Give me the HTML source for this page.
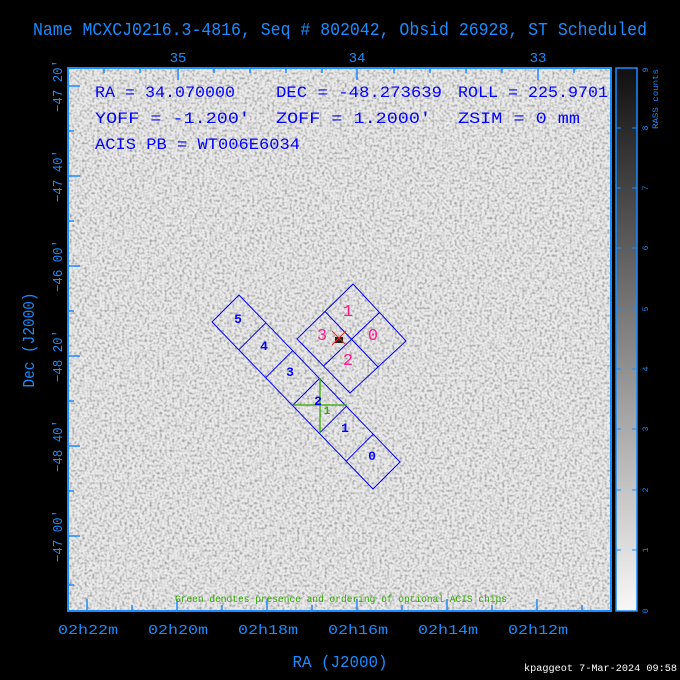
<!DOCTYPE html>
<html><head><meta charset="utf-8"><style>
html,body{margin:0;padding:0;background:#000;}
svg{display:block;}
text{font-family:"Liberation Mono",monospace;}
</style></head><body>
<svg width="680" height="680" viewBox="0 0 680 680" xmlns="http://www.w3.org/2000/svg">
<defs>
<filter id="nz" x="0" y="0" width="100%" height="100%">
<feTurbulence type="fractalNoise" baseFrequency="0.4" numOctaves="1" seed="3"/>
<feColorMatrix type="matrix" values="0 0 0 0 0  0 0 0 0 0  0 0 0 0 0  1.6 0 0 0 -0.3"/>
<feComponentTransfer><feFuncA type="discrete" tableValues="0 0 0 0.06 0.12 0.2 0.3"/></feComponentTransfer>
</filter>
<linearGradient id="cb" x1="0" y1="1" x2="0" y2="0">
<stop offset="0" stop-color="#f8f8f8"/><stop offset="1" stop-color="#101010"/>
</linearGradient>
</defs>
<rect width="680" height="680" fill="#000"/>
<text x="340" y="35" fill="#1a8cff" font-size="18" text-anchor="middle" textLength="614" lengthAdjust="spacingAndGlyphs">Name MCXCJ0216.3-4816, Seq # 802042, Obsid 26928, ST Scheduled</text>
<!-- plot -->
<rect x="68" y="68" width="543" height="543" fill="#eaeaea"/>
<rect x="68" y="68" width="543" height="543" fill="#000" filter="url(#nz)"/>
<rect x="68" y="68" width="543" height="543" fill="none" stroke="#1a8cff" stroke-width="2"/>
<g stroke="#1a8cff" stroke-width="1.5">
<line x1="87" y1="611" x2="87" y2="599"/><line x1="177" y1="611" x2="177" y2="599"/><line x1="267" y1="611" x2="267" y2="599"/><line x1="357" y1="611" x2="357" y2="599"/><line x1="447" y1="611" x2="447" y2="599"/><line x1="537" y1="611" x2="537" y2="599"/>
<line x1="132" y1="611" x2="132" y2="605"/><line x1="222" y1="611" x2="222" y2="605"/><line x1="312" y1="611" x2="312" y2="605"/><line x1="402" y1="611" x2="402" y2="605"/><line x1="492" y1="611" x2="492" y2="605"/><line x1="582" y1="611" x2="582" y2="605"/>
<line x1="178" y1="68" x2="178" y2="80"/><line x1="357" y1="68" x2="357" y2="80"/><line x1="538" y1="68" x2="538" y2="80"/>
<line x1="104" y1="68" x2="104" y2="73"/><line x1="140" y1="68" x2="140" y2="73"/><line x1="214" y1="68" x2="214" y2="73"/><line x1="250" y1="68" x2="250" y2="73"/><line x1="286" y1="68" x2="286" y2="73"/><line x1="322" y1="68" x2="322" y2="73"/><line x1="394" y1="68" x2="394" y2="73"/><line x1="430" y1="68" x2="430" y2="73"/><line x1="466" y1="68" x2="466" y2="73"/><line x1="502" y1="68" x2="502" y2="73"/><line x1="574" y1="68" x2="574" y2="73"/>
<line x1="68" y1="86" x2="80" y2="86"/><line x1="68" y1="176" x2="80" y2="176"/><line x1="68" y1="266" x2="80" y2="266"/><line x1="68" y1="356" x2="80" y2="356"/><line x1="68" y1="446" x2="80" y2="446"/><line x1="68" y1="536" x2="80" y2="536"/>
<line x1="68" y1="131" x2="74" y2="131"/><line x1="68" y1="221" x2="74" y2="221"/><line x1="68" y1="311" x2="74" y2="311"/><line x1="68" y1="401" x2="74" y2="401"/><line x1="68" y1="491" x2="74" y2="491"/><line x1="68" y1="585" x2="74" y2="585"/>
</g>
<g fill="#1a8cff" font-size="14" text-anchor="middle">
<text x="178" y="62">35</text><text x="357" y="62">34</text><text x="538" y="62">33</text>
<text x="88" y="634" textLength="60" lengthAdjust="spacingAndGlyphs">02h22m</text>
<text x="178" y="634" textLength="60" lengthAdjust="spacingAndGlyphs">02h20m</text>
<text x="268" y="634" textLength="60" lengthAdjust="spacingAndGlyphs">02h18m</text>
<text x="358" y="634" textLength="60" lengthAdjust="spacingAndGlyphs">02h16m</text>
<text x="448" y="634" textLength="60" lengthAdjust="spacingAndGlyphs">02h14m</text>
<text x="538" y="634" textLength="60" lengthAdjust="spacingAndGlyphs">02h12m</text>
<text x="340" y="667" font-size="17" textLength="95" lengthAdjust="spacingAndGlyphs">RA (J2000)</text>
<text transform="translate(34,340) rotate(-90)" font-size="17" textLength="95" lengthAdjust="spacingAndGlyphs">Dec (J2000)</text>
<text transform="translate(62,86) rotate(-90)" textLength="52" lengthAdjust="spacingAndGlyphs">−47 20'</text>
<text transform="translate(62,176) rotate(-90)" textLength="52" lengthAdjust="spacingAndGlyphs">−47 40'</text>
<text transform="translate(62,266) rotate(-90)" textLength="52" lengthAdjust="spacingAndGlyphs">−46 00'</text>
<text transform="translate(62,356) rotate(-90)" textLength="52" lengthAdjust="spacingAndGlyphs">−48 20'</text>
<text transform="translate(62,446) rotate(-90)" textLength="52" lengthAdjust="spacingAndGlyphs">−48 40'</text>
<text transform="translate(62,536) rotate(-90)" textLength="52" lengthAdjust="spacingAndGlyphs">−47 00'</text>
</g>
<!-- info text -->
<g fill="#0000ff" font-size="16">
<text x="95" y="97" textLength="140" lengthAdjust="spacingAndGlyphs">RA = 34.070000</text>
<text x="276" y="97" textLength="166" lengthAdjust="spacingAndGlyphs">DEC = -48.273639</text>
<text x="458" y="97" textLength="150" lengthAdjust="spacingAndGlyphs">ROLL = 225.9701</text>
<text x="95" y="123" textLength="155" lengthAdjust="spacingAndGlyphs">YOFF =  -1.200'</text>
<text x="276" y="123" textLength="155" lengthAdjust="spacingAndGlyphs">ZOFF =  1.2000'</text>
<text x="458" y="123" textLength="122" lengthAdjust="spacingAndGlyphs">ZSIM = 0 mm</text>
<text x="95" y="149" textLength="205" lengthAdjust="spacingAndGlyphs">ACIS PB = WT006E6034</text>
</g>
<!-- ACIS-I -->
<g fill="none" stroke="#0000ff" stroke-width="1">
<polygon points="353,284 406,341 350,393 297,339"/>
<line x1="379.5" y1="312.5" x2="323.5" y2="366"/>
<line x1="325" y1="311.5" x2="378" y2="367"/>
<polygon points="239,295 400,462 373,489 212,322"/>
<line x1="265.8" y1="322.8" x2="238.8" y2="349.8"/>
<line x1="292.7" y1="350.7" x2="265.7" y2="377.7"/>
<line x1="319.5" y1="378.5" x2="292.5" y2="405.5"/>
<line x1="346.3" y1="406.3" x2="319.3" y2="433.3"/>
<line x1="373.2" y1="434.2" x2="346.2" y2="461.2"/>
</g>
<g stroke="#33aa00" stroke-width="1.3">
<line x1="320" y1="378" x2="320" y2="433"/>
<line x1="293" y1="405" x2="347" y2="405"/>
</g>
<g fill="#ff1a8c" font-size="17" text-anchor="middle">
<text x="348" y="316">1</text><text x="373" y="340">0</text><text x="322" y="340">3</text><text x="348" y="365">2</text>
</g>
<g fill="#0000ff" font-size="13" font-weight="bold" text-anchor="middle">
<text x="238" y="323">5</text><text x="264" y="350">4</text><text x="290" y="376">3</text><text x="318" y="405">2</text><text x="345" y="432">1</text><text x="372" y="460">0</text>
</g>
<text x="327" y="414" fill="#33aa00" font-size="11" font-weight="bold" text-anchor="middle">1</text>
<rect x="335" y="337" width="8" height="6" fill="#222"/>
<g stroke="#ff2020" stroke-width="1"><line x1="332" y1="331" x2="346" y2="345"/><line x1="346" y1="331" x2="332" y2="345"/></g>
<text x="341" y="602" fill="#33aa00" font-size="10" text-anchor="middle" textLength="332" lengthAdjust="spacingAndGlyphs">Green denotes presence and ordering of optional ACIS chips</text>
<!-- colorbar -->
<rect x="616" y="68" width="21" height="543" fill="url(#cb)" stroke="#1a8cff" stroke-width="1.5"/>
<g stroke="#1a8cff" stroke-width="1">
<line x1="616" y1="128" x2="621" y2="128"/><line x1="632" y1="128" x2="637" y2="128"/>
<line x1="616" y1="188" x2="621" y2="188"/><line x1="632" y1="188" x2="637" y2="188"/>
<line x1="616" y1="248" x2="621" y2="248"/><line x1="632" y1="248" x2="637" y2="248"/>
<line x1="616" y1="309" x2="621" y2="309"/><line x1="632" y1="309" x2="637" y2="309"/>
<line x1="616" y1="369" x2="621" y2="369"/><line x1="632" y1="369" x2="637" y2="369"/>
<line x1="616" y1="429" x2="621" y2="429"/><line x1="632" y1="429" x2="637" y2="429"/>
<line x1="616" y1="490" x2="621" y2="490"/><line x1="632" y1="490" x2="637" y2="490"/>
<line x1="616" y1="550" x2="621" y2="550"/><line x1="632" y1="550" x2="637" y2="550"/>
</g>
<g fill="#1a8cff" font-size="8" text-anchor="middle">
<text transform="translate(648,611) rotate(-90)">0</text>
<text transform="translate(648,550) rotate(-90)">1</text>
<text transform="translate(648,490) rotate(-90)">2</text>
<text transform="translate(648,429) rotate(-90)">3</text>
<text transform="translate(648,369) rotate(-90)">4</text>
<text transform="translate(648,309) rotate(-90)">5</text>
<text transform="translate(648,248) rotate(-90)">6</text>
<text transform="translate(648,188) rotate(-90)">7</text>
<text transform="translate(648,128) rotate(-90)">8</text>
<text transform="translate(648,70) rotate(-90)">9</text>
<text transform="translate(658,99) rotate(-90)" textLength="60" lengthAdjust="spacingAndGlyphs">RASS counts</text>
</g>
<text x="677" y="671" fill="#fff" font-size="10" text-anchor="end" textLength="153" lengthAdjust="spacingAndGlyphs">kpaggeot  7-Mar-2024 09:58</text>
</svg>
</body></html>
